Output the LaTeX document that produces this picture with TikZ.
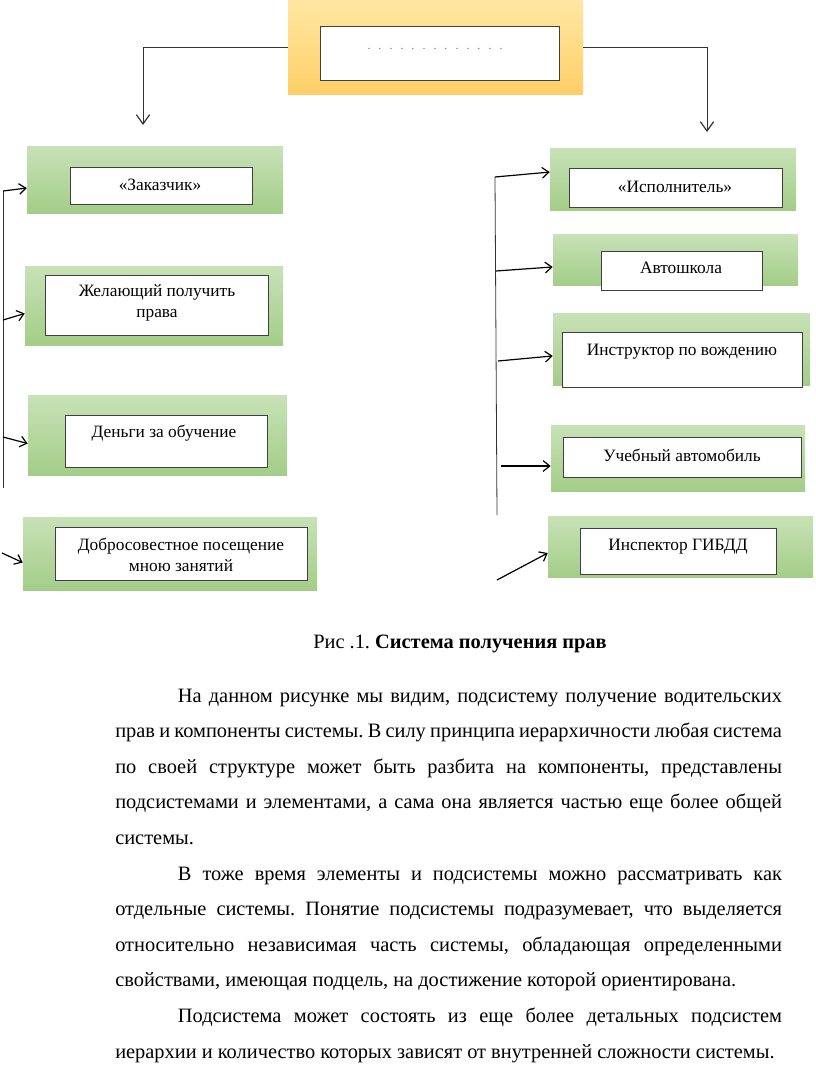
\documentclass[tikz,border=0pt]{standalone}
\usepackage{fontspec}
\setmainfont{Liberation Serif}
\usetikzlibrary{arrows.meta}
\tikzset{>={Straight Barb[length=5pt,width=8pt]}}
\definecolor{grtop}{RGB}{200,226,183}
\definecolor{grbot}{RGB}{163,205,136}
\definecolor{ortop}{RGB}{255,231,163}
\definecolor{orbot}{RGB}{255,207,102}
\definecolor{edge}{RGB}{64,64,64}
\frenchspacing

\begin{document}
\begin{tikzpicture}[x=0.75pt,y=-0.75pt,
  sz/.style 2 args={minimum width=#1*0.75pt, minimum height=#2*0.75pt},
  outbox/.style={inner sep=0pt, top color=grtop, bottom color=grbot},
  inbox/.style={draw=edge, line width=0.7pt, fill=white, inner sep=0pt},
  lbl/.style={font=\fontsize{13}{16}\selectfont, align=center, inner sep=0pt},
  arr/.style={->, line width=0.9pt},
  stem/.style={line width=0.6pt, draw=black!80}]
	\useasboundingbox (0,0) rectangle (816,1074);

	% top box
	\node[sz={295}{95}, inner sep=0pt, top color=ortop, bottom color=orbot] (top) at (435.5,47.5) {};
	\node[inbox, sz={239}{54}] (top-in) at (439.5,53) {};
	\node[font={\fontsize{9}{10}\selectfont\spaceskip=6pt\relax}, text=black!55, inner sep=0pt] (dots) at (435,49) {. . . . . . . . . . . . .};

	% left column
	\node[outbox, sz={256}{67}] (zak) at (155,179.5) {};
	\node[inbox, sz={182}{37}] (zak-in) at (161,185.5) {};
	\node[lbl] (zak-t) at (160,185) {«Заказчик»};

	\node[outbox, sz={258}{79}] (zhel) at (154,305.5) {};
	\node[inbox, sz={223}{60}] (zhel-in) at (156.5,305) {};
	\node[lbl] (zhel-t) at (157,303) {Желающий получить\\права};

	\node[outbox, sz={259}{80}] (den) at (157.5,435) {};
	\node[inbox, sz={202}{52}] (den-in) at (166,441) {};
	\node[lbl] (den-t) at (164,433) {Деньги за обучение};

	\node[outbox, sz={294}{73}] (dobr) at (170,553.5) {};
	\node[inbox, sz={252}{53}] (dobr-in) at (181,553.5) {};
	\node[lbl] (dobr-t) at (181,555) {Добросовестное посещение\\мною занятий};

	% right column
	\node[outbox, sz={246}{62}] (isp) at (673,179) {};
	\node[inbox, sz={213}{39}] (isp-in) at (675.5,187.5) {};
	\node[lbl] (isp-t) at (675,187) {«Исполнитель»};

	\node[outbox, sz={245}{51}] (avto) at (675.5,259.5) {};
	\node[inbox, sz={161}{39}] (avto-in) at (681.5,270.5) {};
	\node[lbl] (avto-t) at (681,268) {Автошкола};

	\node[outbox, sz={257}{72}] (instr) at (681.5,349) {};
	\node[inbox, sz={240}{55}] (instr-in) at (682,359.5) {};
	\node[lbl] (instr-t) at (682,352) {Инструктор по вождению};

	\node[outbox, sz={254}{66}] (ucheb) at (678,458) {};
	\node[inbox, sz={238}{40}] (ucheb-in) at (682,457) {};
	\node[lbl] (ucheb-t) at (682,455) {Учебный автомобиль};

	\node[outbox, sz={265}{61}] (insp) at (680.5,546.5) {};
	\node[inbox, sz={196}{46}] (insp-in) at (678,551) {};
	\node[lbl] (insp-t) at (678,547) {Инспектор ГИБДД};

	% connectors from the top box
	\coordinate (ltip) at (143,125);
	\coordinate (rtip) at (707,132);
	\draw[stem, -{Straight Barb[length=7pt,width=10pt,line width=0.9pt]}] (top.west) -| (ltip);
	\draw[stem, -{Straight Barb[length=7pt,width=10pt,line width=0.9pt]}] (top.east) -| (rtip);

	% left bus
	\coordinate (l1) at (3,191);
	\coordinate (l2) at (3,320);
	\coordinate (l3) at (3,437);
	\coordinate (l4) at (2,553);
	\coordinate (lbot) at (3,488);
	\draw[stem] (l1) -- (lbot);
	\draw[arr] (l1) -- ([yshift=-6.4pt]zak.west);
	\draw[arr] (l2) -- ([yshift=-6pt]zhel.west);
	\draw[arr] (l3) -- ([yshift=-6.4pt]den.west);
	\draw[arr] (l4) -- ([yshift=-6.8pt]dobr.west);

	% right bus
	\coordinate (r1) at (495,177);
	\coordinate (r2) at (496,271);
	\coordinate (r3) at (498,361);
	\coordinate (r4) at (501,466);
	\coordinate (r5) at (497,580);
	\coordinate (rbot) at (497,515);
	\draw[stem] (r1) -- (rbot);
	\draw[arr] (r1) -- ([yshift=5.2pt]isp.west);
	\draw[arr] (r2) -- ([yshift=-5.6pt]avto.west);
	\draw[arr] (r3) -- ([yshift=-5.2pt]instr.west);
	\draw[arr] (r4) -- ([yshift=-6pt]ucheb.west);
	\draw[arr] (r5) -- ([yshift=-4.9pt]insp.west);

	% caption and text
	\node[font=\fontsize{15.3}{17}\selectfont, anchor=base, inner sep=0pt] (cap) at (460,648) {Рис .1. \textbf{Система получения прав}};

	\node[text width=500pt, align=justify, inner sep=0pt, anchor=north west,
	      font=\fontsize{15.3}{26.7}\selectfont] (body) at (115,677) {%
	\noindent\strut\hspace*{47pt}На данном рисунке мы видим, подсистему получение водительских\linebreak
	прав и компоненты системы. В силу принципа иерархичности любая система\linebreak
	по своей структуре может быть разбита на компоненты, представлены\linebreak
	подсистемами и элементами, а сама она является частью еще более общей\linebreak
	системы.\par
	\noindent\hspace*{47pt}В тоже время элементы и подсистемы можно рассматривать как\linebreak
	отдельные системы. Понятие подсистемы подразумевает, что выделяется\linebreak
	относительно независимая часть системы, обладающая определенными\linebreak
	свойствами, имеющая подцель, на достижение которой ориентирована.\par
	\noindent\hspace*{47pt}Подсистема может состоять из еще более детальных подсистем\linebreak
	иерархии и количество которых зависят от внутренней сложности системы.};
\end{tikzpicture}
\end{document}
